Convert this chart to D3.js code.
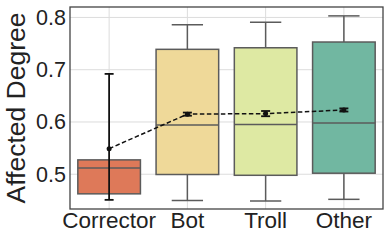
<!DOCTYPE html>
<html>
<head>
<meta charset="utf-8">
<style>
  body { margin: 0; background: #fff; }
  text { font-family: "Liberation Sans", Arial, sans-serif; fill: #222; }
</style>
</head>
<body>
<script src="https://cdnjs.cloudflare.com/ajax/libs/d3/7.8.5/d3.min.js"></script>
<script>
// box stats per group
var categories = ["Corrector", "Bot", "Troll", "Other"];
var q1 = [0.4625, 0.4995, 0.498, 0.502];
var median = [0.512, 0.594, 0.595, 0.598];
var q3 = [0.5275, 0.739, 0.742, 0.753];
var whiskerLow = [0.4625, 0.450, 0.449, 0.452];
var whiskerHigh = [0.5275, 0.786, 0.791, 0.803];
// mean with error bar
var mean = [0.549, 0.615, 0.616, 0.623];
var errLow = [0.451, 0.612, 0.611, 0.620];
var errHigh = [0.692, 0.618, 0.621, 0.626];
var yTicks = [0.5, 0.6, 0.7, 0.8];
var colors = ["#de7959", "#efd999", "#dee9a3", "#71b7a1"];

var W = 390, H = 241;
var margin = {top: 7, right: 7, bottom: 32, left: 70};
var width = W - margin.left - margin.right,
    height = H - margin.top - margin.bottom;

var svg = d3.select("body").append("svg")
    .attr("width", W).attr("height", H)
  .append("g")
    .attr("transform", "translate(" + margin.left + "," + margin.top + ")");

var x = d3.scaleBand().domain(categories).range([0, width]).padding(0);
var y = d3.scaleLinear().domain([0.4335, 0.82]).range([height, 0]);

// grid
svg.append("g").selectAll("line.gy").data(yTicks).enter().append("line")
    .attr("x1", 0).attr("x2", width)
    .attr("y1", function(d) { return y(d); }).attr("y2", function(d) { return y(d); })
    .attr("stroke", "#dcdcdc").attr("stroke-width", 1);
svg.append("g").selectAll("line.gx").data(categories).enter().append("line")
    .attr("y1", 0).attr("y2", height)
    .attr("x1", function(d) { return x(d) + x.bandwidth() / 2; })
    .attr("x2", function(d) { return x(d) + x.bandwidth() / 2; })
    .attr("stroke", "#dcdcdc").attr("stroke-width", 1);

var bw = x.bandwidth() * 0.8;
var edge = "#5b5b5b";

categories.forEach(function(c, i) {
  var cx = x(c) + x.bandwidth() / 2;
  var g = svg.append("g");
  // whiskers
  g.append("line").attr("x1", cx).attr("x2", cx)
      .attr("y1", y(whiskerHigh[i])).attr("y2", y(q3[i]))
      .attr("stroke", edge).attr("stroke-width", 1.5);
  g.append("line").attr("x1", cx).attr("x2", cx)
      .attr("y1", y(q1[i])).attr("y2", y(whiskerLow[i]))
      .attr("stroke", edge).attr("stroke-width", 1.5);
  if (whiskerHigh[i] > q3[i]) {
    g.append("line").attr("x1", cx - bw / 4).attr("x2", cx + bw / 4)
        .attr("y1", y(whiskerHigh[i])).attr("y2", y(whiskerHigh[i]))
        .attr("stroke", edge).attr("stroke-width", 1.5);
  }
  if (whiskerLow[i] < q1[i]) {
    g.append("line").attr("x1", cx - bw / 4).attr("x2", cx + bw / 4)
        .attr("y1", y(whiskerLow[i])).attr("y2", y(whiskerLow[i]))
        .attr("stroke", edge).attr("stroke-width", 1.5);
  }
  // box
  g.append("rect")
      .attr("x", cx - bw / 2).attr("width", bw)
      .attr("y", y(q3[i])).attr("height", y(q1[i]) - y(q3[i]))
      .attr("fill", colors[i]).attr("stroke", edge).attr("stroke-width", 1.5);
  g.append("line").attr("x1", cx - bw / 2).attr("x2", cx + bw / 2)
      .attr("y1", y(median[i])).attr("y2", y(median[i]))
      .attr("stroke", edge).attr("stroke-width", 1.5);
});

// mean line
var line = d3.line()
    .x(function(d, i) { return x(categories[i]) + x.bandwidth() / 2; })
    .y(function(d) { return y(d); });
svg.append("path").datum(mean)
    .attr("d", line).attr("fill", "none")
    .attr("stroke", "#111").attr("stroke-width", 1.5)
    .attr("stroke-dasharray", "4.5,2.5");

// error bars
categories.forEach(function(c, i) {
  var cx = x(c) + x.bandwidth() / 2;
  var g = svg.append("g").attr("stroke", "#111").attr("stroke-width", 1.8);
  g.append("line").attr("x1", cx).attr("x2", cx)
      .attr("y1", y(errHigh[i])).attr("y2", y(errLow[i]));
  g.append("line").attr("x1", cx - 4.5).attr("x2", cx + 4.5)
      .attr("y1", y(errHigh[i])).attr("y2", y(errHigh[i]));
  g.append("line").attr("x1", cx - 4.5).attr("x2", cx + 4.5)
      .attr("y1", y(errLow[i])).attr("y2", y(errLow[i]));
  svg.append("circle").attr("cx", cx).attr("cy", y(mean[i])).attr("r", 2.5)
      .attr("fill", "#111");
});

// frame
svg.append("rect").attr("width", width).attr("height", height)
    .attr("fill", "none").attr("stroke", "#444").attr("stroke-width", 1.3);

// axes
var yAxis = svg.append("g")
    .call(d3.axisLeft(y).tickValues(yTicks).tickFormat(d3.format(".1f")).tickSize(0).tickPadding(4));
yAxis.select(".domain").remove();
yAxis.selectAll("text").style("font-size", "21.5px").attr("fill", "#222");

var xAxis = svg.append("g")
    .attr("transform", "translate(0," + height + ")")
    .call(d3.axisBottom(x).tickSize(0).tickPadding(3));
xAxis.select(".domain").remove();
xAxis.selectAll("text").style("font-size", "22.5px").attr("fill", "#222");

svg.append("text")
    .attr("transform", "translate(" + (-45) + "," + (height / 2) + ") rotate(-90)")
    .attr("text-anchor", "middle")
    .style("font-size", "26.5px")
    .text("Affected Degree");
</script>
</body>
</html>
